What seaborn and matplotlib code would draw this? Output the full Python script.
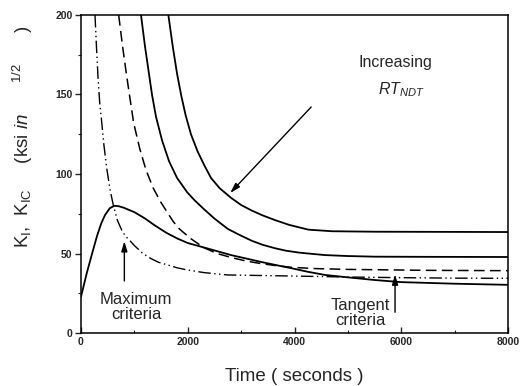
import matplotlib
matplotlib.use("Agg")
import matplotlib.pyplot as plt
import seaborn as sns
import pandas as pd

# ---- data ----
t_ki = [0, 107, 200, 300, 380, 450, 540, 625, 700, 800, 1000, 1200, 1368, 1600, 1800, 2000,
        2355, 2600, 2811, 3100, 3400, 3700, 3949, 4250, 4573, 5000, 5510, 6000, 7000, 8000]
k_i = [22.8, 37.5, 49, 61, 69, 74.2, 78.5, 80, 79.8, 78.8, 76, 72, 68, 63, 59.5, 56.6,
       53.3, 51, 49, 46.8, 44.5, 42.4, 40.7, 38.5, 36.5, 35, 33.3, 32, 31, 30.3]

t_kic1 = [262, 290, 320, 350, 387, 430, 487, 545, 605, 680, 762, 830, 905, 1000, 1156, 1300,
          1450, 1624, 1800, 2000, 2300, 2749, 3300, 4000, 5000, 6000, 7000, 8000]
k_ic1 = [200, 180, 160, 145, 133, 118, 102.5, 90, 80.5, 71, 64.8, 61, 58.5, 55, 50.1, 47,
         44.5, 42.8, 41, 39.6, 38, 36.5, 36.2, 35.8, 35.2, 34.8, 34.5, 34.4]

t_kic2 = [706, 780, 850, 920, 987, 1100, 1218, 1355, 1500, 1624, 1730, 1842, 2050, 2230, 2311,
          2550, 2811, 3100, 3400, 3700, 3949, 4400, 5000, 6500, 8000]
k_ic2 = [200, 180, 163, 147, 132, 116, 102.5, 91, 82, 75.5, 70, 65.5, 59.5, 55.3, 53.5,
         50, 47.5, 45.2, 43.5, 42.2, 41.3, 40.5, 40, 39.4, 39.2]

t_kic3 = [1124, 1200, 1265, 1330, 1405, 1520, 1650, 1800, 1990, 2124, 2300, 2499, 2749, 2950,
          3200, 3400, 3636, 3850, 4100, 4573, 5000, 5510, 6500, 8000]
k_ic3 = [200, 180, 165, 150, 136, 121, 108, 97.5, 88.5, 83.6, 78, 72, 65.5, 62,
         58, 55.5, 53.3, 51.7, 50.5, 49, 48.4, 48, 47.9, 47.8]

t_kic4 = [1637, 1720, 1800, 1880, 1960, 2060, 2187, 2310, 2436, 2600, 2811, 3000, 3200, 3400,
          3636, 3900, 4260, 4700, 5510, 8000]
k_ic4 = [200, 180, 163, 149, 137, 125, 114, 105.5, 97.5, 91, 85, 80.5, 77, 74,
         71, 68, 65, 64, 63.7, 63.5]

x_ticks = [0, 2000, 4000, 6000, 8000]
y_ticks = [0, 50, 100, 150, 200]

sns.set_theme(style="ticks")
plt.rcParams['font.family'] = ['Liberation Sans', 'DejaVu Sans']
plt.rcParams['mathtext.fontset'] = 'custom'
plt.rcParams['mathtext.rm'] = 'Liberation Sans'
plt.rcParams['mathtext.it'] = 'Liberation Sans:italic'
plt.rcParams['mathtext.bf'] = 'Liberation Sans:bold'

fig = plt.figure(figsize=(5.28, 3.86), dpi=100)
ax = fig.add_axes([81/528, 1-333/386, 427/528, 318/386])

series = [
    (t_ki, k_i, '-', 1.3),
    (t_kic1, k_ic1, (0, (9, 2.5, 1, 2.5, 1, 2.5)), 1.0),
    (t_kic2, k_ic2, (0, (7, 3.5)), 1.1),
    (t_kic3, k_ic3, '-', 1.3),
    (t_kic4, k_ic4, '-', 1.3),
]
for tx, ky, ls, lw in series:
    df = pd.DataFrame({'t': tx, 'k': ky})
    sns.lineplot(data=df, x='t', y='k', ax=ax, color='black', linewidth=lw,
                 linestyle=ls, sort=False, estimator=None)

ax.set_xlim(0, 8000)
ax.set_ylim(0, 200)
ax.set_xticks(x_ticks)
ax.set_yticks(y_ticks)
ax.set_xticks([1000, 3000, 5000, 7000], minor=True)
ax.set_yticks([25, 75, 125, 175], minor=True)
ax.tick_params(axis='x', which='major', direction='in', length=4, width=1, pad=3, labelsize=7.5)
ax.tick_params(axis='x', which='minor', direction='in', length=2.5, width=0.8)
ax.tick_params(axis='y', which='major', direction='out', length=4, width=1, pad=2, labelsize=7.5)
ax.tick_params(axis='y', which='minor', direction='out', length=2.5, width=0.8)
for lab in ax.get_xticklabels() + ax.get_yticklabels():
    lab.set_fontweight('bold')
for s in ax.spines.values():
    s.set_visible(True)
    s.set_linewidth(1.1)
    s.set_color('black')

ax.set_xlabel('Time ( seconds )', fontsize=13.5, labelpad=15)
ax.set_ylabel(r'K$_\mathregular{I}$,  K$_\mathregular{IC}$     (ksi $\mathit{in}$      $^\mathregular{1/2}$      )',
              fontsize=13.5)
ax.yaxis.set_label_coords(-0.108, 0.618)

ax.text(5884, 170, 'Increasing', ha='center', va='center', fontsize=11.5)
ax.text(6000, 153, r'$\mathit{RT}_{\mathit{NDT}}$', ha='center', va='center', fontsize=11.5)
ax.annotate('', xy=(2760, 86.8), xytext=(4348, 143.4),
            arrowprops=dict(arrowstyle='-|>,head_length=0.5,head_width=0.15', color='black', lw=1.0))

ax.text(1031, 16.4, 'Maximum\ncriteria', ha='center', va='center', fontsize=12,
        linespacing=1.05)
ax.annotate('', xy=(812, 59.5), xytext=(812, 31),
            arrowprops=dict(arrowstyle='-|>,head_length=0.5,head_width=0.15', color='black', lw=1.0))

ax.text(5228, 12.6, 'Tangent\ncriteria', ha='center', va='center', fontsize=12,
        linespacing=1.05)
ax.annotate('', xy=(5884, 38.6), xytext=(5884, 11.3),
            arrowprops=dict(arrowstyle='-|>,head_length=0.5,head_width=0.15', color='black', lw=1.0))

fig.savefig('out.png', dpi=100)
